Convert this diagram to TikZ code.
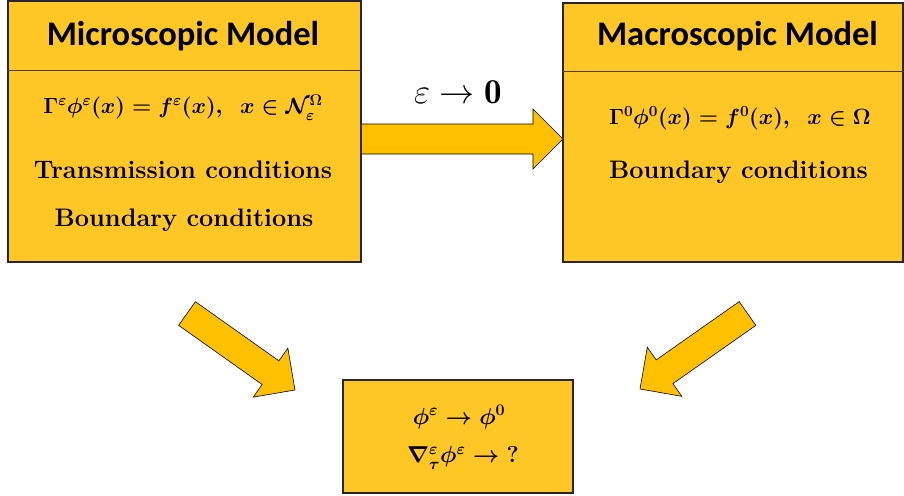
\RequirePackage{fix-cm}
\documentclass[tikz,border=0pt]{standalone}
\usepackage{amsmath,amssymb}
\usepackage{fontspec}
\newfontfamily\titlefont{Carlito}
\usetikzlibrary{calc}
\definecolor{boxfill}{RGB}{255,199,38}
\definecolor{arrowfill}{RGB}{255,192,0}
\definecolor{hdrline}{RGB}{80,62,20}
\newcommand\blockarrow[5]{%
  \coordinate (#1#2base) at ($(#2)!#5!(#1)$);
  \filldraw[barrow] ($(#1)!#3!90:(#2)$) -- ($(#1#2base)!#3!-90:(#1)$) -- ($(#1#2base)!#4!-90:(#1)$) -- (#2) -- ($(#1#2base)!#4!90:(#1)$) -- ($(#1#2base)!#3!90:(#1)$) -- ($(#1)!#3!-90:(#2)$) -- cycle;
}
\begin{document}
\begin{tikzpicture}[x=1pt,y=-1pt,
  box/.style={draw=black!85, line width=1.1pt, fill=boxfill, inner sep=0pt},
  hdr/.style={draw=hdrline, line width=0.7pt},
  barrow/.style={draw=black, line width=0.6pt, fill=arrowfill, line join=miter},
  title/.style={font=\titlefont\bfseries\fontsize{34.5}{40}\selectfont, inner sep=0pt},
  btxt/.style={font=\bfseries\fontsize{25.3}{30}\selectfont, inner sep=0pt},
  mtxt/.style={font=\fontsize{22}{26}\selectfont\boldmath, inner sep=0pt},
  rtxt/.style={font=\fontsize{23}{27}\selectfont\boldmath, inner sep=0pt}]
\useasboundingbox (0,0) rectangle (904,495);
% arrows (drawn first, boxes on top)
\coordinate (mA) at (355,139);
\coordinate (mB) at (563,139);
\coordinate (lA) at (187,313.5);
\coordinate (lB) at (295,390);
\coordinate (rA) at (747.5,313.5);
\coordinate (rB) at (640,389);
\blockarrow{mA}{mB}{15pt}{30pt}{30pt}
\blockarrow{lA}{lB}{14.5pt}{30pt}{30pt}
\blockarrow{rA}{rB}{14.5pt}{30pt}{30pt}
% microscopic model
\node[box, minimum width=353pt, minimum height=261pt] (micro) at (184.5,131.5) {};
\draw[hdr] (micro.west |- 0,70) -- (micro.east |- 0,70);
\node[title] (microT) at (183,36) {Microscopic Model};
\node[mtxt] (microE) at (183,108) {$\Gamma^{\varepsilon}\phi^{\varepsilon}(x)=f^{\varepsilon}(x),\ \ x\in\mathcal{N}^{\Omega}_{\varepsilon}$};
\node[btxt] (microTC) at (183,170) {Transmission conditions};
\node[btxt] (microBC) at (184,220) {Boundary conditions};
% macroscopic model
\node[box, minimum width=340pt, minimum height=259pt] (macro) at (733,132.5) {};
\draw[hdr] (macro.west |- 0,71) -- (macro.east |- 0,71);
\node[title] (macroT) at (737.5,36) {Macroscopic Model};
\node[mtxt] (macroE) at (740,118) {$\Gamma^{0}\phi^{0}(x)=f^{0}(x),\ \ x\in\Omega$};
\node[btxt] (macroBC) at (738.5,172) {Boundary conditions};
% limit label
\node[font=\fontsize{35}{40}\selectfont, inner sep=0pt] (eps) at (458,92) {$\varepsilon\rightarrow\mathbf{0}$};
% result box
\node[box, minimum width=230pt, minimum height=113pt] (res) at (458,436.5) {};
\node[rtxt] (res1) at (459,417) {$\phi^{\varepsilon}\rightarrow\phi^{0}$};
\node[rtxt] (res2) at (463,458) {$\nabla^{\varepsilon}_{\tau}\phi^{\varepsilon}\rightarrow{?}$};
\end{tikzpicture}
\end{document}
